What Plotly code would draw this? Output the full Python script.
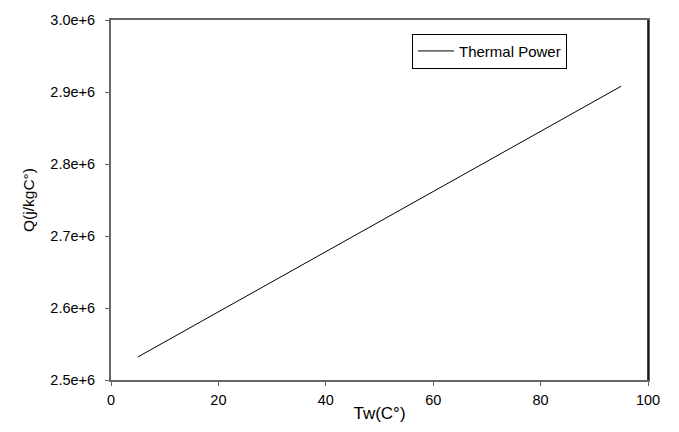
import plotly.graph_objects as go

tw = [5, 95]
q = [2.532e6, 2.908e6]
series_name = "Thermal Power"

x_ticks = [0, 20, 40, 60, 80, 100]
y_ticks = [2.5e6, 2.6e6, 2.7e6, 2.8e6, 2.9e6, 3.0e6]
y_tick_labels = ["2.5e+6", "2.6e+6", "2.7e+6", "2.8e+6", "2.9e+6", "3.0e+6"]

FONT = "Liberation Sans, Arial, sans-serif"

fig = go.Figure()
fig.add_trace(go.Scatter(x=tw, y=q, mode="lines", name=series_name,
                         line=dict(color="black", width=1), showlegend=True))

# plot area targets x 111..648, y 15..383
fig.update_layout(
    width=679, height=432,
    margin=dict(l=111, r=31, t=15, b=49),
    paper_bgcolor="white", plot_bgcolor="white",
    font=dict(family=FONT, size=14, color="black"),
    showlegend=True,
    legend=dict(x=0.5605, y=0.962, xanchor="left", yanchor="top",
                bordercolor="black", borderwidth=1, bgcolor="white",
                font=dict(size=15), itemwidth=36),
    xaxis=dict(range=[0, 100], tickvals=x_ticks, showgrid=False, zeroline=False,
               showline=True, linecolor="#666666", linewidth=2, mirror=True,
               ticks="outside", ticklen=4, tickcolor="#666666",
               tickfont=dict(size=14.5), ticklabelstandoff=2,
               title=dict(text="Tw(C°)", font=dict(size=17), standoff=0)),
    yaxis=dict(range=[2.5e6, 3.0e6], tickvals=y_ticks, ticktext=y_tick_labels,
               showgrid=False, zeroline=False,
               showline=True, linecolor="#666666", linewidth=2, mirror=True,
               ticks="outside", ticklen=4, tickcolor="#666666",
               tickfont=dict(size=14.5), ticklabelstandoff=7,
               title=dict(text="Q(j/kgC°)", font=dict(size=15.5), standoff=12)),
    shapes=[dict(type="line", xref="paper", yref="paper", x0=1, x1=1, y0=0, y1=1,
                 line=dict(color="black", width=1.5))],
)

fig.write_html("out.html", config={"displayModeBar": False},
               post_script="document.body.style.margin='0px';document.body.style.overflow='hidden';")
